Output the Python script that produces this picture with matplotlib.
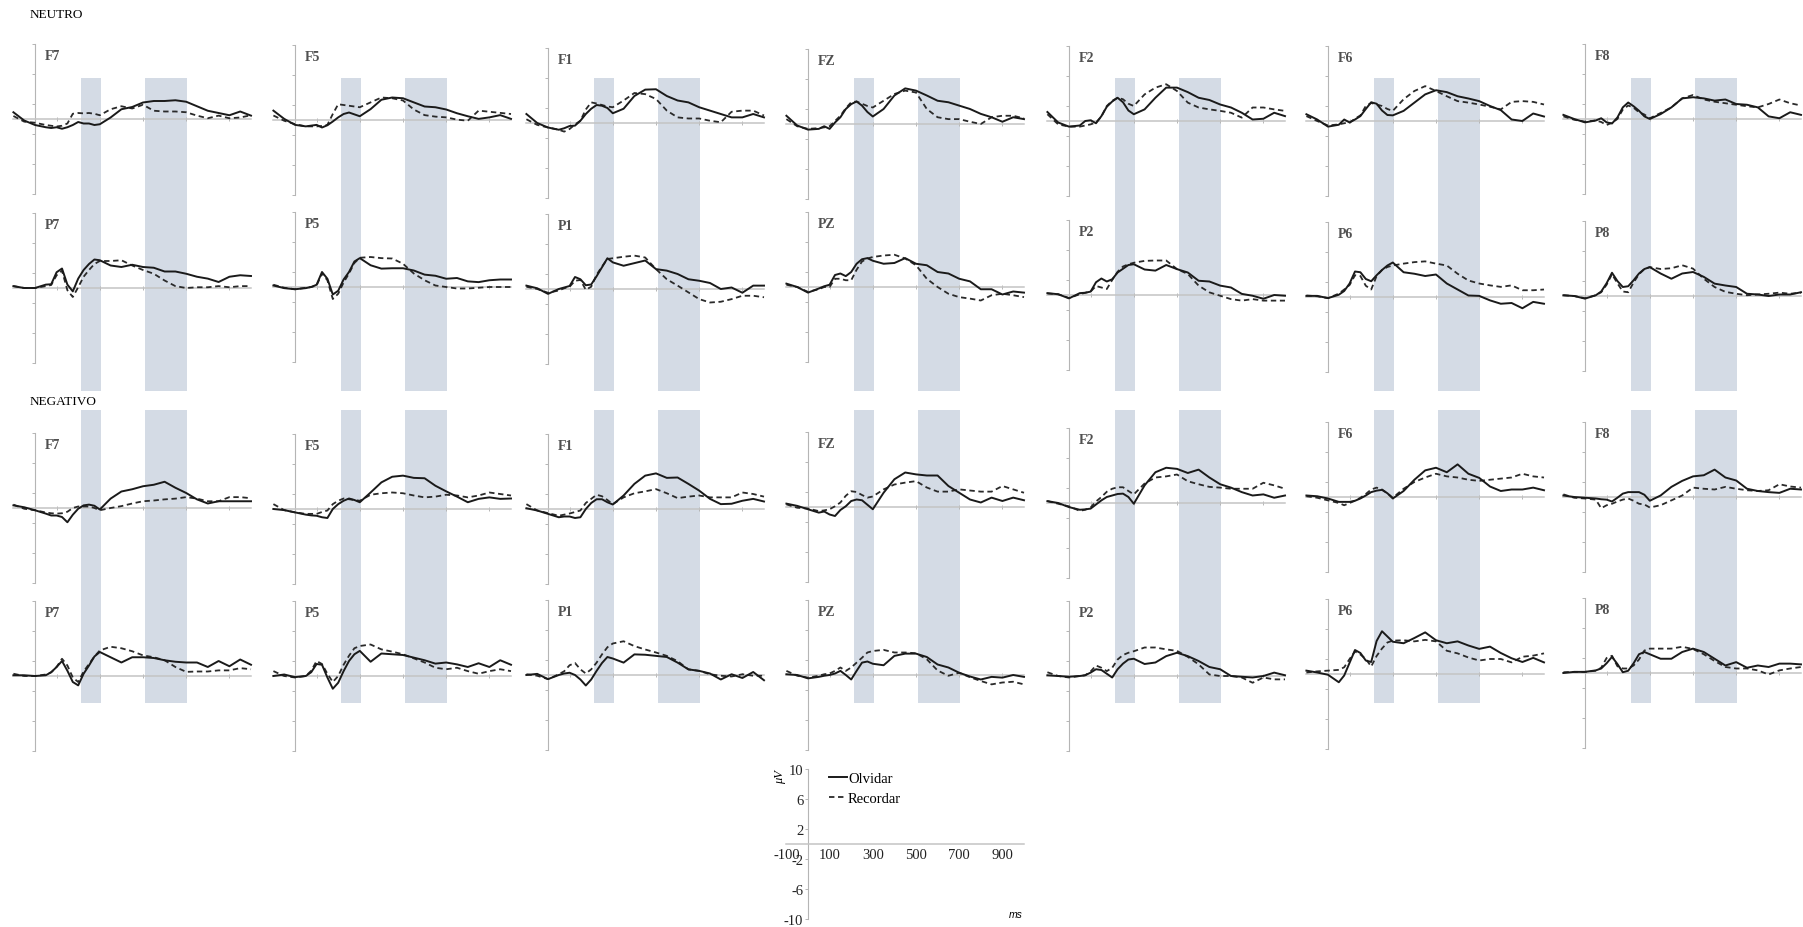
import matplotlib
matplotlib.use('Agg')
import matplotlib.pyplot as plt
from matplotlib.lines import Line2D

plt.rcParams['font.family'] = ['Liberation Serif', 'DejaVu Serif']

W, H = 1803, 928
fig = plt.figure(figsize=(W / 100, H / 100), dpi=100)

# time samples (ms)
times = [-100, -50, 0, 50, 75, 100, 125, 150, 175, 200, 225, 250, 275, 300,
         350, 400, 450, 500, 550, 600, 650, 700, 750, 800, 850, 900, 950, 1000]

frontal = ['F7', 'F5', 'F1', 'FZ', 'F2', 'F6', 'F8']
parietal = ['P7', 'P5', 'P1', 'PZ', 'P2', 'P6', 'P8']

# NEUTRO - Olvidar (solid)
neu_olvidar = {
    'F7': [0.9, -0.2, -0.8, -1.1, -1.2, -1.1, -1.3, -1.1, -0.8, -0.4, -0.6, -0.6, -0.8, -0.7, 0.2, 1.3, 1.6, 2.2, 2.4, 2.4, 2.5, 2.3, 1.7, 1.1, 0.8, 0.5, 1.0, 0.45],
    'F5': [1.25, 0.15, -0.65, -0.85, -0.75, -0.65, -1.0, -0.7, -0.2, 0.35, 0.8, 1.0, 0.75, 0.5, 1.45, 2.7, 3.0, 2.9, 2.35, 1.8, 1.7, 1.4, 0.9, 0.5, 0.15, 0.35, 0.65, 0.15],
    'F1': [1.2, 0, -0.6, -0.9, -0.7, -0.4, -0.35, 0.3, 1.2, 1.9, 2.4, 2.3, 2.0, 1.3, 1.9, 3.6, 4.45, 4.5, 3.6, 3.0, 2.75, 2.1, 1.65, 1.2, 0.75, 0.75, 1.2, 0.75],
    'FZ': [1.1, -0.2, -0.75, -0.65, -0.3, -0.65, 0.2, 0.9, 2.0, 2.65, 3.0, 2.45, 1.6, 1.0, 2.0, 3.8, 4.75, 4.45, 3.8, 3.1, 2.9, 2.45, 2.0, 1.35, 0.9, 0.3, 0.9, 0.65],
    'F2': [1.2, -0.2, -0.75, -0.6, 0.0, 0.1, -0.3, 0.65, 1.9, 2.6, 3.1, 2.5, 1.4, 0.9, 1.55, 3.1, 4.45, 4.45, 3.85, 3.1, 2.8, 2.2, 1.8, 1.1, 0.2, 0.3, 1.1, 0.65],
    'F6': [0.9, 0.2, -0.75, -0.5, 0.2, -0.2, 0.2, 0.65, 1.6, 2.5, 2.3, 1.4, 0.8, 0.75, 1.35, 2.45, 3.55, 4.1, 3.85, 3.3, 3.0, 2.65, 2.0, 1.45, 0.2, 0, 1.0, 0.6],
    'F8': [0.55, 0, -0.45, -0.2, 0.1, -0.45, -0.6, 0.2, 1.55, 2.2, 1.7, 1.1, 0.35, 0, 0.65, 1.55, 2.75, 2.9, 2.75, 2.45, 2.6, 2.0, 1.9, 1.55, 0.35, 0.1, 0.9, 0.55],
    'P7': [0.25, 0, 0, 0.45, 0.5, 2.1, 2.6, 0.45, -0.45, 1.25, 2.4, 3.2, 3.8, 3.7, 3.0, 2.8, 3.1, 2.8, 2.7, 2.2, 2.2, 1.9, 1.5, 1.25, 0.8, 1.5, 1.7, 1.6],
    'P5': [0.2, -0.15, -0.3, -0.15, 0, 0.3, 2.0, 1.1, -1.0, -0.5, 1.0, 2.0, 3.4, 3.85, 2.9, 2.45, 2.5, 2.5, 2.2, 1.65, 1.5, 1.1, 1.2, 0.75, 0.65, 0.9, 1.0, 1.0],
    'P1': [0.45, 0.1, -0.65, 0, 0.2, 0.4, 1.6, 1.3, 0.5, 0.6, 1.7, 2.9, 4.1, 3.55, 3.1, 3.45, 3.8, 2.65, 2.45, 2.0, 1.3, 1.1, 0.8, 0, 0.2, -0.5, 0.45, 0.45],
    'PZ': [0.45, 0, -0.75, -0.2, 0.1, 0.3, 1.6, 1.8, 1.45, 2.0, 3.1, 3.7, 3.85, 3.5, 3.1, 3.2, 3.85, 3.1, 2.9, 2.0, 1.8, 1.1, 0.75, -0.3, -0.3, -1.0, -0.6, -0.75],
    'P2': [0.25, 0.1, -0.45, 0.25, 0.3, 0.45, 1.7, 2.2, 1.8, 2.1, 3.0, 3.5, 4.0, 4.1, 3.4, 3.25, 4.0, 3.45, 3.0, 1.9, 1.8, 1.25, 1.0, 0.15, -0.1, -0.5, 0, -0.1],
    'P6': [0.15, 0.15, -0.15, 0.3, 0.8, 1.8, 3.4, 3.3, 2.4, 2.1, 2.9, 3.6, 4.2, 4.6, 3.3, 3.1, 2.8, 3.0, 1.8, 1.0, 0.2, 0.15, -0.45, -0.9, -0.8, -1.5, -0.65, -0.9],
    'P8': [0.1, 0, -0.35, 0.1, 0.6, 1.7, 3.1, 2.0, 1.2, 1.3, 2.1, 3.0, 3.6, 3.85, 3.0, 2.3, 3.0, 3.2, 2.55, 1.65, 1.4, 1.2, 0.3, 0.2, 0, 0.2, 0.2, 0.5],
}

# NEUTRO - Recordar (dashed)
neu_recordar = {
    'F7': [0.4, -0.35, -0.5, -0.8, -0.9, -1.0, -0.9, -0.6, 0.7, 0.8, 0.75, 0.8, 0.7, 0.5, 1.3, 1.7, 1.4, 1.9, 1.1, 1.0, 1.0, 0.9, 0.45, 0.1, 0.45, 0.1, 0.2, 0.5],
    'F5': [0.6, -0.1, -0.55, -0.85, -0.85, -0.85, -0.8, -0.65, 0.8, 2.1, 2.0, 1.9, 1.8, 1.7, 2.35, 3.0, 2.9, 2.6, 1.4, 0.65, 0.45, 0.35, 0.05, -0.1, 1.25, 1.1, 0.95, 0.8],
    'F1': [0.5, -0.25, -0.6, -0.9, -1.15, -0.8, -0.2, 0.3, 1.8, 2.75, 2.6, 2.4, 2.2, 2.1, 3.0, 4.0, 3.85, 3.2, 1.65, 0.75, 0.6, 0.6, 0.3, 0.1, 1.5, 1.65, 1.65, 1.0],
    'FZ': [0.65, -0.3, -0.65, -0.55, -0.45, -0.3, 0.4, 1.1, 2.1, 2.9, 3.0, 2.7, 2.4, 2.2, 3.1, 4.0, 4.45, 4.2, 2.0, 0.9, 0.65, 0.65, 0.3, 0, 0.9, 1.1, 1.1, 0.75],
    'F2': [0.9, -0.45, -0.75, -0.75, -0.6, -0.45, -0.2, 0.6, 2.0, 2.7, 3.1, 2.9, 2.3, 2.0, 3.55, 4.45, 4.9, 4.0, 2.45, 1.8, 1.55, 1.35, 1.1, 0.45, 1.8, 1.8, 1.55, 1.35],
    'F6': [0.65, 0, -0.6, -0.45, -0.3, -0.2, 0.3, 0.75, 2.0, 2.4, 2.2, 2.0, 1.6, 1.35, 2.9, 4.0, 4.65, 4.0, 3.3, 2.65, 2.45, 2.2, 1.9, 1.55, 2.55, 2.65, 2.55, 2.2],
    'F8': [0.35, -0.1, -0.35, -0.2, -0.4, -0.8, -0.5, 0, 1.25, 1.8, 1.5, 0.9, 0.6, 0.1, 0.8, 1.55, 2.75, 3.2, 2.6, 2.3, 2.1, 1.9, 1.7, 1.55, 2.0, 2.6, 2.1, 1.8],
    'P7': [0.25, 0, 0, 0.25, 0.4, 1.7, 2.3, -0.3, -1.2, 0.1, 1.5, 2.4, 3.2, 3.6, 3.6, 3.7, 3.0, 2.4, 1.9, 1.0, 0.25, 0, 0.1, 0.1, 0.25, 0.1, 0.25, 0.25],
    'P5': [0.3, -0.1, -0.3, -0.1, 0, 0.2, 1.8, 0.9, -1.6, -0.9, 0.6, 1.8, 3.2, 3.9, 4.0, 3.85, 3.8, 3.1, 1.8, 0.9, 0.2, 0, -0.2, -0.2, -0.1, 0, 0, 0],
    'P1': [0.3, 0, -0.5, -0.2, 0.1, 0.3, 1.1, 1.2, -0.1, 0.3, 1.9, 3.0, 4.0, 4.1, 4.3, 4.45, 4.2, 2.65, 1.3, 0.45, -0.45, -1.35, -1.8, -1.7, -1.35, -0.9, -0.9, -1.1],
    'PZ': [0.3, 0, -0.65, -0.3, 0, 0, 1.1, 1.1, 0.9, 0.9, 2.3, 3.4, 3.8, 4.0, 4.2, 4.3, 3.8, 2.9, 1.1, 0, -0.9, -1.35, -1.55, -1.8, -1.1, -0.9, -1.1, -1.35],
    'P2': [0.2, 0.1, -0.4, 0.1, 0.3, 0.45, 1.2, 1.0, 0.8, 2.0, 3.1, 3.8, 4.1, 4.3, 4.55, 4.6, 4.6, 3.45, 2.8, 1.25, 0.35, -0.1, -0.55, -0.75, -0.55, -0.75, -0.75, -0.75],
    'P6': [0.2, 0.1, -0.15, 0.45, 1.0, 1.6, 2.9, 2.8, 1.5, 1.0, 2.8, 3.6, 4.0, 4.2, 4.45, 4.65, 4.75, 4.45, 4.2, 3.1, 2.2, 1.8, 1.55, 1.35, 1.55, 0.9, 0.9, 1.0],
    'P8': [0.1, 0, -0.3, 0.1, 0.5, 1.5, 2.9, 1.7, 0.6, 0.5, 1.8, 2.9, 3.6, 3.85, 3.6, 3.7, 4.1, 3.65, 2.3, 1.2, 0.55, 0.3, 0.1, 0.2, 0.3, 0.45, 0.3, 0.45],
}

# NEGATIVO - Olvidar (solid)
neg_olvidar = {
    'F7': [0.35, 0.1, -0.3, -0.75, -1.0, -1.0, -1.2, -1.9, -0.9, -0.1, 0.35, 0.45, 0.3, -0.2, 1.25, 2.2, 2.5, 2.9, 3.1, 3.5, 2.7, 2.0, 1.15, 0.6, 0.9, 0.9, 0.9, 0.9],
    'F5': [0, -0.15, -0.45, -0.75, -0.85, -0.9, -1.1, -1.2, 0, 0.65, 1.1, 1.4, 1.2, 0.9, 2.2, 3.55, 4.3, 4.45, 4.15, 4.1, 3.1, 2.35, 1.65, 0.9, 1.35, 1.55, 1.35, 1.4],
    'F1': [0.1, -0.2, -0.65, -1.1, -1.0, -1.0, -1.2, -1.1, 0, 0.8, 1.3, 1.3, 0.9, 0.6, 1.8, 3.35, 4.45, 4.75, 4.15, 4.2, 3.35, 2.45, 1.35, 0.65, 0.7, 1.1, 1.35, 1.0],
    'FZ': [0.45, 0.15, -0.3, -0.75, -0.6, -1.0, -1.2, -0.4, 0.1, 0.8, 1.0, 0.9, 0.3, -0.3, 1.9, 3.7, 4.6, 4.35, 4.2, 4.2, 2.8, 1.9, 1.0, 0.6, 1.25, 0.8, 1.25, 0.9],
    'F2': [0.25, 0, -0.55, -0.9, -0.85, -0.75, -0.2, 0.35, 0.8, 1.0, 1.2, 1.25, 0.8, -0.1, 2.35, 4.1, 4.7, 4.55, 4.0, 4.45, 3.4, 2.5, 2.05, 1.45, 1.0, 1.15, 0.7, 1.0],
    'F6': [0.2, 0.1, -0.2, -0.65, -0.65, -0.65, -0.5, -0.2, 0.2, 0.65, 0.85, 0.95, 0.5, -0.2, 0.8, 2.3, 3.55, 3.9, 3.3, 4.35, 3.1, 2.55, 1.4, 0.8, 1.0, 1.0, 1.25, 0.9],
    'F8': [0.2, 0, -0.1, -0.2, -0.3, -0.35, -0.6, -0.1, 0.45, 0.65, 0.65, 0.65, 0.3, -0.5, 0.2, 1.35, 2.15, 2.75, 2.9, 3.65, 2.6, 2.2, 1.1, 0.8, 0.65, 0.55, 1.1, 1.0],
    'P7': [0.1, 0.1, 0, 0.1, 0.5, 1.2, 2.0, 0.7, -0.8, -1.25, 0.3, 1.4, 2.6, 3.2, 2.5, 1.8, 2.5, 2.5, 2.4, 2.1, 1.9, 1.8, 1.8, 1.2, 2.0, 1.3, 2.2, 1.5],
    'P5': [0, 0.2, -0.15, 0, 0.5, 1.6, 1.5, -0.2, -1.7, -0.9, 0.65, 2.0, 2.9, 3.35, 1.9, 3.0, 2.9, 2.8, 2.45, 2.1, 1.65, 1.8, 1.55, 1.2, 1.7, 1.2, 2.1, 1.5],
    'P1': [0, 0.15, -0.55, 0, 0.2, 0.3, 0, -0.6, -1.4, -0.6, 0.55, 1.6, 2.4, 2.2, 1.65, 2.75, 2.7, 2.55, 2.4, 1.65, 0.75, 0.55, 0.2, -0.6, 0.1, -0.4, 0.4, -0.7],
    'PZ': [0.1, 0, -0.45, -0.25, -0.1, 0, 0.2, 0.55, 0, -0.6, 0.55, 1.65, 1.8, 1.5, 1.3, 2.55, 2.85, 2.85, 2.4, 1.4, 1.0, 0.3, -0.2, -0.6, -0.25, -0.35, 0, -0.25],
    'P2': [0.1, 0, -0.1, 0, 0.1, 0.45, 0.9, 0.8, 0.3, -0.2, 0.9, 1.65, 2.2, 2.3, 1.6, 1.8, 2.65, 3.1, 2.65, 2.0, 1.2, 0.9, 0, -0.1, -0.2, 0, 0.45, 0.1],
    'P6': [0.45, 0.2, -0.1, -1.1, -0.2, 1.5, 3.2, 2.8, 1.8, 1.6, 4.4, 5.7, 5.0, 4.3, 4.1, 4.8, 5.55, 4.5, 4.1, 4.35, 3.8, 3.35, 3.65, 2.8, 2.1, 1.6, 2.15, 1.55],
    'P8': [0, 0.15, 0.15, 0.35, 0.6, 1.3, 2.15, 1.2, 0.1, 0.3, 1.3, 2.5, 2.8, 2.5, 1.9, 1.9, 2.8, 3.25, 2.8, 1.9, 1.0, 1.45, 0.7, 1.0, 0.8, 1.25, 1.25, 1.15],
}

# NEGATIVO - Recordar (dashed)
neg_recordar = {
    'F7': [0.45, -0.1, -0.3, -0.6, -0.7, -0.75, -0.7, -0.5, 0, 0.2, 0.2, 0.2, 0, -0.3, 0, 0.25, 0.6, 0.9, 1.0, 1.15, 1.25, 1.45, 1.25, 0.9, 0.9, 1.45, 1.45, 1.3],
    'F5': [0.65, -0.15, -0.45, -0.65, -0.65, -0.65, -0.4, -0.2, 0.65, 1.1, 1.4, 1.3, 1.2, 1.1, 1.9, 2.1, 2.2, 2.1, 1.8, 1.55, 1.65, 1.9, 1.8, 1.55, 1.8, 2.2, 2.0, 1.8],
    'F1': [0.65, -0.2, -0.55, -0.9, -0.75, -0.6, -0.4, -0.2, 0.8, 1.35, 1.9, 1.7, 1.2, 0.65, 1.55, 2.1, 2.35, 2.65, 2.1, 1.45, 1.65, 1.8, 1.55, 1.55, 1.55, 2.2, 2.0, 1.65],
    'FZ': [0.35, -0.1, -0.2, -0.55, -0.45, -0.3, 0.1, 0.6, 1.5, 2.1, 2.0, 1.6, 1.25, 1.4, 2.35, 3.0, 3.25, 3.45, 2.6, 2.05, 2.05, 2.35, 2.2, 2.05, 2.05, 2.8, 2.35, 1.9],
    'F2': [0.25, -0.1, -0.45, -1.05, -0.9, -0.6, 0.2, 0.8, 1.5, 1.9, 2.1, 2.1, 1.6, 1.15, 2.6, 3.4, 3.55, 3.8, 2.9, 2.5, 2.15, 2.05, 1.9, 1.9, 1.9, 2.7, 2.35, 1.9],
    'F6': [0.1, -0.1, -0.45, -0.8, -1.1, -0.8, -0.5, -0.1, 0.4, 1.0, 1.25, 1.0, 0.5, -0.1, 1.1, 2.0, 2.6, 3.1, 2.75, 2.6, 2.3, 2.15, 2.3, 2.45, 2.6, 3.1, 2.75, 2.6],
    'F8': [0.35, -0.1, -0.2, -0.35, -1.5, -1.1, -0.9, -0.6, -0.35, -0.2, -0.5, -0.9, -1.0, -1.4, -1.1, -0.45, 0.2, 1.25, 1.1, 1.0, 1.35, 1.1, 0.9, 0.8, 0.9, 1.7, 1.4, 1.25],
    'P7': [0.3, 0, 0, 0.2, 0.5, 1.2, 2.3, 1.4, -0.2, -0.8, 0.6, 1.6, 2.6, 3.4, 3.9, 3.7, 3.3, 2.75, 2.5, 2.1, 1.2, 0.55, 0.6, 0.6, 0.75, 0.75, 1.05, 0.9],
    'P5': [0.65, 0, -0.2, 0, 0.7, 2.0, 1.6, 0.3, -0.8, 0, 1.5, 2.7, 3.7, 4.0, 4.2, 3.55, 3.25, 2.9, 2.35, 1.8, 1.1, 0.9, 1.1, 0.65, 0.3, 0.65, 0.9, 0.65],
    'P1': [0.1, -0.1, -0.55, 0.1, 0.5, 1.3, 1.6, 0.75, 0.2, 0.75, 1.65, 2.75, 3.7, 4.2, 4.5, 3.85, 3.4, 3.0, 2.55, 1.85, 0.75, 0.55, 0.1, -0.1, -0.2, 0.1, -0.1, -0.1],
    'PZ': [0.55, -0.1, -0.35, -0.1, 0.1, 0.2, 0.55, 1.0, 0.55, 1.0, 1.65, 2.3, 3.0, 3.2, 3.35, 3.0, 3.0, 2.9, 2.1, 0.6, -0.1, 0.3, -0.3, -0.8, -1.25, -1.0, -0.9, -1.25],
    'P2': [0.5, 0, -0.2, 0, 0.1, 0.6, 1.4, 1.1, 0.65, 1.1, 2.2, 2.8, 3.1, 3.3, 3.8, 3.8, 3.55, 3.35, 2.55, 1.55, 0.2, 0, 0, -0.2, -0.9, -0.2, -0.45, -0.45],
    'P6': [0.2, 0.35, 0.45, 0.55, 0.9, 2.0, 3.0, 2.6, 2.0, 1.0, 2.4, 3.4, 4.2, 4.45, 4.5, 4.35, 4.55, 4.35, 3.1, 2.75, 2.2, 1.8, 2.0, 2.0, 1.55, 2.3, 2.45, 2.75],
    'P8': [0.1, 0.15, 0.15, 0.3, 0.7, 2.0, 2.3, 0.9, 0.6, 0.6, 1.0, 1.8, 3.0, 3.25, 3.25, 3.25, 3.5, 3.2, 2.5, 1.6, 0.8, 0.6, 0.6, 0.35, -0.2, 0.35, 0.6, 0.8],
}

# analysis windows (ms)
windows = [(215, 305), (510, 702)]

# layout in pixels
PX_MS = 0.216
PX_UV = 7.5
col_x0 = [35, 295, 548, 808, 1069, 1328, 1585]
zero_y = [[120, 121, 124, 125, 122, 122, 120],
          [289, 288, 290, 288, 296, 298, 297],
          [509, 510, 510, 508, 504, 498, 498],
          [677, 677, 676, 676, 677, 675, 674]]
band_px = [(79, 392), (411, 704)]

band_color = '#d4dbe5'
axis_color = '#b5b5b5'


def make_axes(x0, zy):
    left = (x0 - 100 * PX_MS) / W
    bottom = 1 - (zy + 10 * PX_UV) / H
    ax = fig.add_axes([left, bottom, 1100 * PX_MS / W, 20 * PX_UV / H])
    ax.set_xlim(-100, 1000)
    ax.set_ylim(-10, 10)
    ax.patch.set_visible(False)
    for s in ['top', 'right']:
        ax.spines[s].set_visible(False)
    ax.spines['left'].set_position(('data', 0))
    ax.spines['bottom'].set_position(('data', 0))
    ax.spines['left'].set_color(axis_color)
    ax.spines['bottom'].set_color('#c4c4c4')
    ax.spines['left'].set_linewidth(0.8)
    ax.spines['bottom'].set_linewidth(1.1)
    ax.set_yticks([-10, -6, -2, 2, 6, 10])
    ax.set_xticks([100, 300, 500, 700, 900])
    ax.tick_params(axis='both', colors=axis_color, length=2.5, width=0.7,
                   labelleft=False, labelbottom=False)
    ax.tick_params(axis='x', direction='inout')
    return ax


conditions = [(neu_olvidar, neu_recordar), (neg_olvidar, neg_recordar)]
for ci, (olv, rec) in enumerate(conditions):
    for ri, names in enumerate([frontal, parietal]):
        row = ci * 2 + ri
        for c, name in enumerate(names):
            zy = zero_y[row][c]
            ax = make_axes(col_x0[c], zy)
            if ri == 0:
                top, bot = band_px[ci]
                ymax = (zy + 75 - top) / 150
                ymin = (zy + 75 - bot) / 150
                for a, b in windows:
                    ax.axvspan(a, b, ymin=ymin, ymax=ymax, color=band_color,
                               lw=0, clip_on=False, zorder=0)
            ax.plot(times, rec[name], color='#2a2a2a', lw=1.3,
                    dashes=(3, 2), zorder=3, clip_on=False)
            ax.plot(times, olv[name], color='#1a1a1a', lw=1.4, zorder=4,
                    clip_on=False)
            ax.text(46, 9.3, name, fontsize=10, fontweight='bold',
                    color='#505050', va='top', ha='left')

fig.text(30 / W, 1 - 15.5 / H, 'NEUTRO', fontsize=9.5, va='center', ha='left')
fig.text(30 / W, 1 - 402 / H, 'NEGATIVO', fontsize=9.5, va='center', ha='left')

# scale / legend panel
sx = make_axes(808, 845)
sx.set_xticks([-100, 100, 300, 500, 700, 900])
sx.set_xticklabels(['-100', '100', '300', '500', '700', '900'])
sx.set_yticklabels(['-10', '-6', '-2', '2', '6', '10'])
sx.tick_params(axis='both', labelleft=True, labelbottom=True, labelsize=10.5,
               labelcolor='#222222', length=2, pad=1.5)
sx.tick_params(axis='x', length=0, pad=3)
sx.text(-130, 10, 'μV', rotation=90, fontsize=9, style='italic',
        ha='center', va='top')
sx.text(930, -9.3, 'ms', fontsize=7.5, style='italic', ha='left', va='center',
        family=['Liberation Sans', 'DejaVu Sans'])
handles = [Line2D([], [], color='#1a1a1a', lw=1.4),
           Line2D([], [], color='#2a2a2a', lw=1.3, dashes=(3, 2))]
fig.legend(handles, ['Olvidar', 'Recordar'], loc='upper left',
           bbox_to_anchor=(829 / W, 1 - 773 / H), frameon=False,
           fontsize=10.5, handlelength=1.2, handletextpad=0.1,
           labelspacing=0.45, borderpad=0, borderaxespad=0)

fig.savefig('out.png', dpi=100)
